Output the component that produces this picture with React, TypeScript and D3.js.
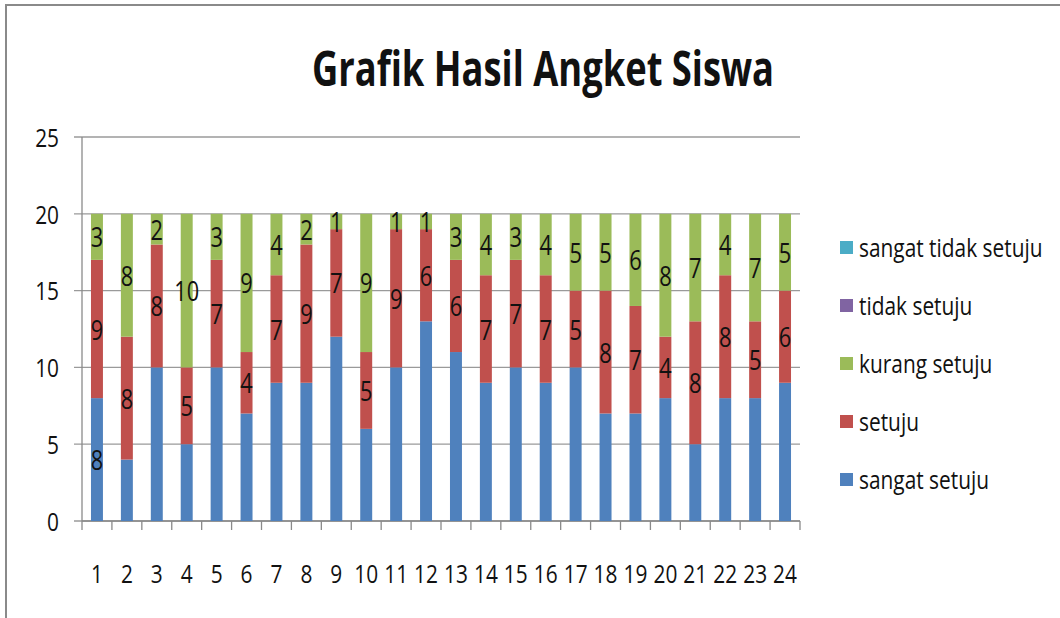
import React from 'react';
import * as d3 from 'd3';

const students = d3.range(1, 25).map(String);
const sangatSetuju = [8, 4, 10, 5, 10, 7, 9, 9, 12, 6, 10, 13, 11, 9, 10, 9, 10, 7, 7, 8, 5, 8, 8, 9];
const setuju = [9, 8, 8, 5, 7, 4, 7, 9, 7, 5, 9, 6, 6, 7, 7, 7, 5, 8, 7, 4, 8, 8, 5, 6];
const kurangSetuju = [3, 8, 2, 10, 3, 9, 4, 2, 1, 9, 1, 1, 3, 4, 3, 4, 5, 5, 6, 8, 7, 4, 7, 5];
const tidakSetuju = students.map(() => 0);
const sangatTidakSetuju = students.map(() => 0);
const yTicks = [0, 5, 10, 15, 20, 25];

const seriesNames = ['sangat setuju', 'setuju', 'kurang setuju', 'tidak setuju', 'sangat tidak setuju'];
const seriesValues = [sangatSetuju, setuju, kurangSetuju, tidakSetuju, sangatTidakSetuju];
const colors = ['#4f81bd', '#c0504d', '#9bbb59', '#8064a2', '#4bacc6'];
// Excel only showed the blue label on the first bar
const showLabel = (s: number, i: number) => (s === 0 ? i === 0 : true);

const FONT = '"Open Sans", "Noto Sans", sans-serif';

const T = ({x, y, children, size = 24, anchor = 'middle', sx = 0.87, sy = 1.05}: any) => (
    <text
        transform={`translate(${x},${y}) scale(${sx},${sy})`}
        fontSize={size}
        fontFamily={FONT}
        textAnchor={anchor}
        dominantBaseline="central"
        fill="#111"
    >
        {children}
    </text>
);

export default function App() {
    const width = 1060;
    const height = 618;
    const left = 82, right = 800, top = 137, bottom = 521;

    const rows = students.map((s, i) => {
        const r: any = {name: s};
        seriesNames.forEach((n, k) => (r[n] = seriesValues[k][i]));
        return r;
    });
    const stacked = d3.stack().keys(seriesNames)(rows);

    const x = d3.scaleBand().domain(students).range([left, right]).paddingInner(0.6).paddingOuter(0.3);
    const y = d3.scaleLinear().domain([0, 25]).range([bottom, top]);
    const step = x.step();
    const boundaries = d3.range(0, students.length + 1).map((i) => left + i * step);

    const legendTop = 247;
    const legendGap = 58;

    return (
        <svg width={width} height={height} style={{position: 'absolute', left: 0, top: 0, background: '#fff'}}>
            <line x1={5} y1={5} x2={width} y2={5} stroke="#8a8a8a" strokeWidth={2} />
            <line x1={6} y1={5} x2={6} y2={height} stroke="#8a8a8a" strokeWidth={2} />

            <text
                x={543}
                y={67}
                fontSize={48}
                fontFamily={FONT}
                fontWeight={700}
                textAnchor="middle"
                dominantBaseline="central"
                textLength={462}
                lengthAdjust="spacingAndGlyphs"
                fill="#111"
            >
                Grafik Hasil Angket Siswa
            </text>

            {yTicks.map((t) => (
                <g key={t}>
                    <line x1={left - 8} x2={right} y1={y(t)} y2={y(t)} stroke="#9a9a9a" strokeWidth={1.3} />
                    <T x={59} y={y(t)} anchor="end">{t}</T>
                </g>
            ))}
            <line x1={left} x2={left} y1={top} y2={bottom} stroke="#8a8a8a" strokeWidth={1.3} />
            <line x1={left} x2={right} y1={bottom} y2={bottom} stroke="#8a8a8a" strokeWidth={1.3} />
            {boundaries.map((bx, i) => (
                <line key={i} x1={bx} x2={bx} y1={bottom} y2={bottom + 9} stroke="#8a8a8a" strokeWidth={1.3} />
            ))}
            {students.map((s) => (
                <T key={s} x={x(s)! + x.bandwidth() / 2} y={573}>{s}</T>
            ))}

            {stacked.map((layer, k) => (
                <g key={seriesNames[k]} fill={colors[k]}>
                    {layer.map((d, i) =>
                        d[1] - d[0] > 0 ? (
                            <rect
                                key={i}
                                x={x(students[i])}
                                width={x.bandwidth()}
                                y={y(d[1])}
                                height={y(d[0]) - y(d[1])}
                            />
                        ) : null
                    )}
                </g>
            ))}
            {stacked.map((layer, k) => (
                <g key={'l' + k}>
                    {layer.map((d, i) =>
                        d[1] - d[0] > 0 && showLabel(k, i) ? (
                            <T key={i} x={x(students[i])! + x.bandwidth() / 2} y={y((d[0] + d[1]) / 2)} size={25} sy={1.1}>
                                {d[1] - d[0]}
                            </T>
                        ) : null
                    )}
                </g>
            ))}

            {seriesNames
                .slice()
                .reverse()
                .map((n, j) => {
                    const k = seriesNames.length - 1 - j;
                    const cy = legendTop + j * legendGap;
                    return (
                        <g key={n}>
                            <rect x={840} y={cy - 6} width={13} height={13} fill={colors[k]} />
                            <T x={859} y={cy} anchor="start">{n}</T>
                        </g>
                    );
                })}
        </svg>
    );
}
